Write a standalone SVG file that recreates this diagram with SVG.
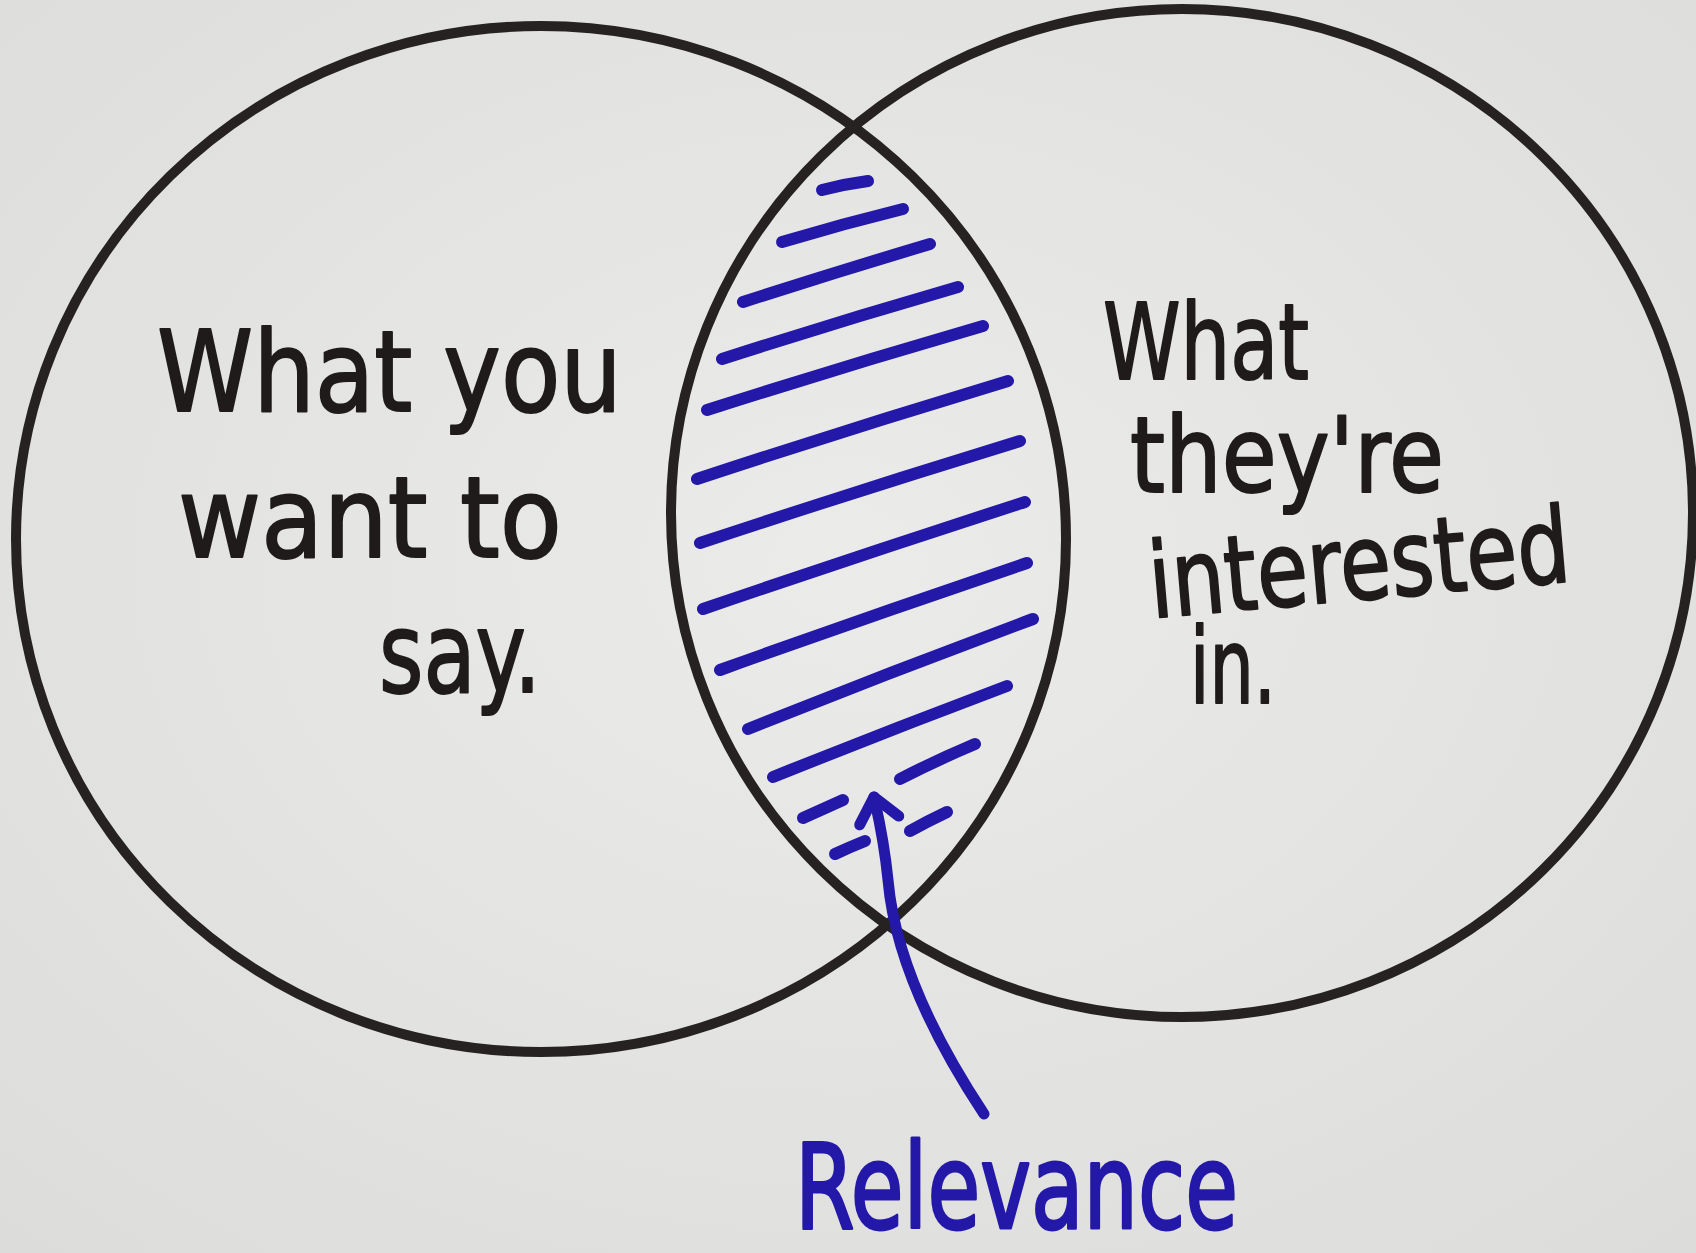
<svg xmlns="http://www.w3.org/2000/svg" width="1696" height="1253" viewBox="0 0 1696 1253">
<defs>
<radialGradient id="bg" cx="50%" cy="45%" r="75%">
<stop offset="0" stop-color="#ebebea"/>
<stop offset="1" stop-color="#dcdcda"/>
</radialGradient>
<marker id="head" viewBox="-30 -30 60 60" markerWidth="60" markerHeight="60" refX="0" refY="0" orient="auto" markerUnits="userSpaceOnUse">
<path d="M-24,-20 L0,0 L-24,20" fill="none" stroke="#2318a8" stroke-width="11" stroke-linecap="round" stroke-linejoin="round"/>
</marker>
</defs>
<style>
.ring{fill:none;stroke:#262222;stroke-width:10}
.hatch{fill:none;stroke:#2318a8;stroke-width:12;stroke-linecap:round}
.hand{font-family:"DejaVu Sans","Noto Sans",sans-serif;fill:#1f1b1b;stroke:#1f1b1b;stroke-width:2;stroke-linejoin:round}
.blue{font-family:"DejaVu Sans","Noto Sans",sans-serif;fill:#2318a8;stroke:#2318a8;stroke-width:3;stroke-linejoin:round}
.conn{fill:none;stroke:#2318a8;stroke-width:11;stroke-linecap:round}
</style>
<rect width="1696" height="1253" fill="url(#bg)"/>
<g id="left-set">
<ellipse class="ring" cx="541" cy="539" rx="525" ry="513"/>
<text class="hand" x="157" y="411" font-size="112" textLength="465" lengthAdjust="spacingAndGlyphs">What you</text>
<text class="hand" x="178" y="557" font-size="112" textLength="384" lengthAdjust="spacingAndGlyphs">want to</text>
<text class="hand" x="379" y="692" font-size="112" textLength="162" lengthAdjust="spacingAndGlyphs">say.</text>
</g>
<g id="right-set">
<ellipse class="ring" cx="1182" cy="513" rx="511" ry="504"/>
<text class="hand" x="1103" y="379" font-size="105" textLength="206" lengthAdjust="spacingAndGlyphs">What</text>
<text class="hand" x="1130" y="492" font-size="105" textLength="314" lengthAdjust="spacingAndGlyphs">they're</text>
<text class="hand" x="1152" y="618" font-size="105" textLength="422" lengthAdjust="spacingAndGlyphs" transform="rotate(-5 1152 618)">interested</text>
<text class="hand" x="1190" y="703" font-size="105" textLength="86" lengthAdjust="spacingAndGlyphs">in.</text>
</g>
<g id="overlap-hatch">
<path class="hatch" d="M822,190 Q845,184 868,181"/>
<path class="hatch" d="M782,242 Q842,224 903,209"/>
<path class="hatch" d="M743,302 Q836,272 930,244"/>
<path class="hatch" d="M722,359 Q840,321 958,287"/>
<path class="hatch" d="M707,410 Q845,366 983,326"/>
<path class="hatch" d="M697,479 Q852,428 1008,381"/>
<path class="hatch" d="M700,543 Q860,490 1020,441"/>
<path class="hatch" d="M703,609 Q864,554 1025,502"/>
<path class="hatch" d="M720,670 Q873,615 1027,563"/>
<path class="hatch" d="M748,729 Q890,672 1033,619"/>
<path class="hatch" d="M773,777 Q890,730 1007,686"/>
<path class="hatch" d="M900,779 Q937,760 975,744"/>
<path class="hatch" d="M803,818 Q823,809 843,800"/>
<path class="hatch" d="M910,831 Q928,821 947,812"/>
<path class="hatch" d="M835,854 Q850,847 865,841"/>
</g>
<g id="relevance-label">
<text class="blue" x="795" y="1228" font-size="118" textLength="443" lengthAdjust="spacingAndGlyphs">Relevance</text>
</g>
<g id="connectors">
<path class="conn" d="M984,1114 C935,1040 895,960 888,880 C884,840 878,815 874,797" marker-end="url(#head)"/>
</g>
</svg>
